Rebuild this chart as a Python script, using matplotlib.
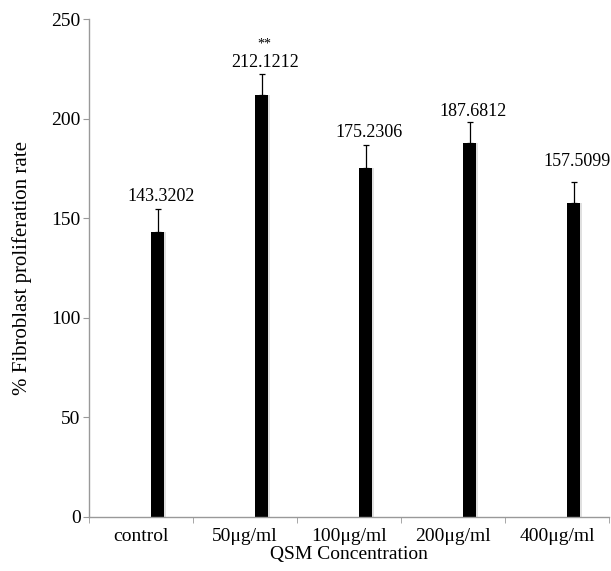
import matplotlib.pyplot as plt
import numpy as np

categories = ['control', '50μg/ml', '100μg/ml', '200μg/ml', '400μg/ml']
values = [143.3202, 212.1212, 175.2306, 187.6812, 157.5099]
errors = [11.5, 10.5, 11.3, 10.5, 10.7]
labels = ['143.3202', '212.1212', '175.2306', '187.6812', '157.5099']
stars = ['', '**', '', '', '']

plt.rcParams['font.family'] = ['Liberation Serif', 'DejaVu Serif']

fig = plt.figure(figsize=(6.11, 5.71), dpi=100)
ax = fig.add_axes([0.1457, 0.0946, 0.851, 0.872])

x = np.arange(len(categories))
bx = x + 0.16
w = 0.13

# light grey shadow to the right of each bar
ax.bar(bx + 0.02, values, width=w, color='#e0e0e0', zorder=1)
ax.bar(bx, values, width=w, color='black', zorder=2)
ax.errorbar(bx, values, yerr=[np.zeros(len(values)), errors], fmt='none',
            ecolor='black', elinewidth=0.9, capsize=2.5, capthick=0.9, zorder=3)

gaps = [2.0, 1.5, 2.0, 1.2, 6.0]
for xi, v, e, g, lab, s in zip(bx, values, errors, gaps, labels, stars):
    ax.text(xi + 0.03, v + e + g, lab, ha='center', va='bottom', fontsize=13)
    if s:
        ax.text(xi + 0.03, v + e + g + 10, s, ha='center', va='bottom', fontsize=10)

ax.set_xlim(-0.5, 4.5)
ax.set_ylim(0, 250)
ax.set_yticks([0, 50, 100, 150, 200, 250])
ax.set_xticks(x)
ax.set_xticklabels(categories, fontsize=14)
ax.set_xticks(np.arange(-0.5, 5, 1), minor=True)
ax.tick_params(axis='x', which='major', length=0, pad=8)
ax.tick_params(axis='x', which='minor', length=4, color='#999999')
ax.tick_params(axis='y', length=4, color='#999999', labelsize=14, pad=2)

for side in ['top', 'right']:
    ax.spines[side].set_visible(False)
for side in ['left', 'bottom']:
    ax.spines[side].set_color('#999999')
    ax.spines[side].set_linewidth(1.0)

ax.set_xlabel('QSM Concentration', fontsize=14, labelpad=1)
ax.set_ylabel('% Fibroblast proliferation rate', fontsize=15, labelpad=14)

fig.savefig('out.png', dpi=100)
